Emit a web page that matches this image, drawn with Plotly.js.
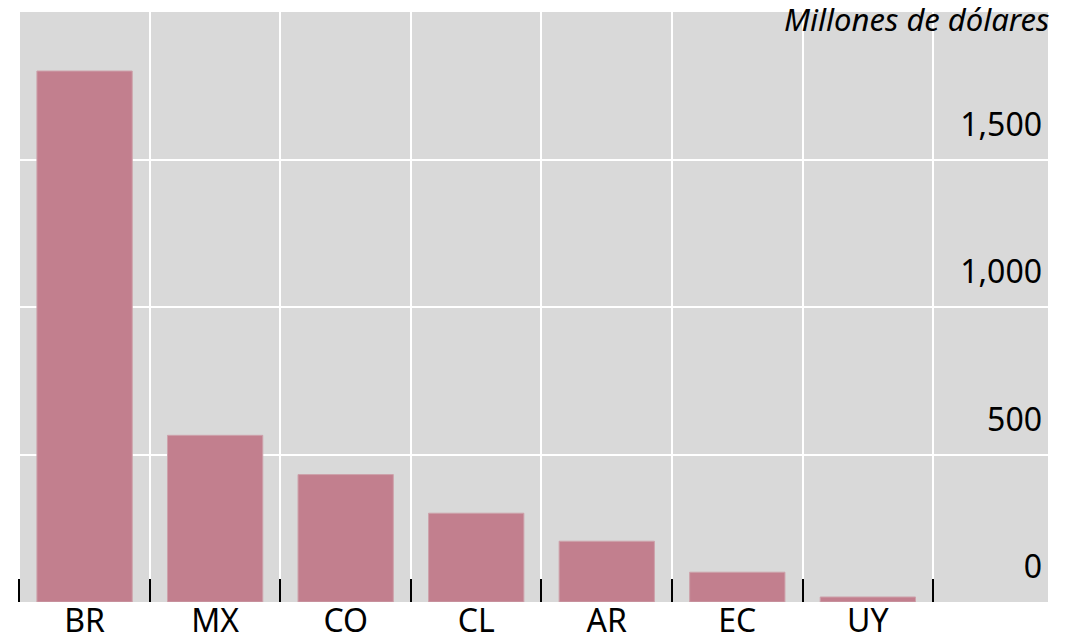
<!DOCTYPE html>
<html>
<head>
<meta charset="utf-8">
<script src="https://cdn.plot.ly/plotly-3.0.1.min.js"></script>
<style>html,body{margin:0;padding:0;background:#fff;}#chart{width:1076px;height:641px;}</style>
</head>
<body>
<div id="chart"></div>
<script>
const countries = ["BR", "MX", "CO", "CL", "AR", "EC", "UY"];
const values = [1800, 565, 432, 301, 206, 101, 17];
const yTickVals = [0, 500, 1000, 1500];
const titleText = "Millones de dólares";

const fontFam = "'Noto Sans', 'Open Sans', sans-serif";

const trace = {
  type: "bar",
  x: countries,
  y: values,
  marker: { color: "#c27f8e", line: { color: "#cda2ab", width: 1 } },
  hoverinfo: "x+y"
};

const layout = {
  width: 1076,
  height: 641,
  margin: { l: 18, r: 28, t: 12, b: 39, pad: 0 },
  paper_bgcolor: "#ffffff",
  plot_bgcolor: "#d9d9d9",
  showlegend: false,
  bargap: 0.27,
  font: { family: fontFam, color: "#000" },
  xaxis: {
    type: "category",
    range: [-0.51, 7.38],
    tickson: "boundaries",
    ticks: "inside",
    ticklen: 23,
    tickwidth: 2,
    tickcolor: "#000",
    showgrid: true,
    gridcolor: "#ffffff",
    gridwidth: 2,
    showline: false,
    zeroline: false,
    ticklabelstandoff: -3,
    tickfont: { size: 32, color: "#000", family: fontFam },
    fixedrange: true
  },
  yaxis: {
    side: "right",
    range: [0, 2000],
    tickvals: yTickVals,
    tickformat: ",",
    ticklabelposition: "inside",
    ticklabelshift: -35,
    ticklabelstandoff: 3,
    ticks: "",
    showgrid: true,
    gridcolor: "#ffffff",
    gridwidth: 2,
    zeroline: false,
    showline: false,
    tickfont: { size: 32, color: "#000", family: fontFam },
    fixedrange: true
  },
  annotations: [{
    text: titleText,
    xref: "paper", yref: "paper",
    x: 1, y: 1,
    xanchor: "right", yanchor: "middle",
    xshift: 3,
    yshift: -7,
    showarrow: false,
    font: { size: 31, style: "italic", color: "#000", family: fontFam }
  }]
};

Plotly.newPlot("chart", [trace], layout, { displayModeBar: false, staticPlot: true });
</script>
</body>
</html>
